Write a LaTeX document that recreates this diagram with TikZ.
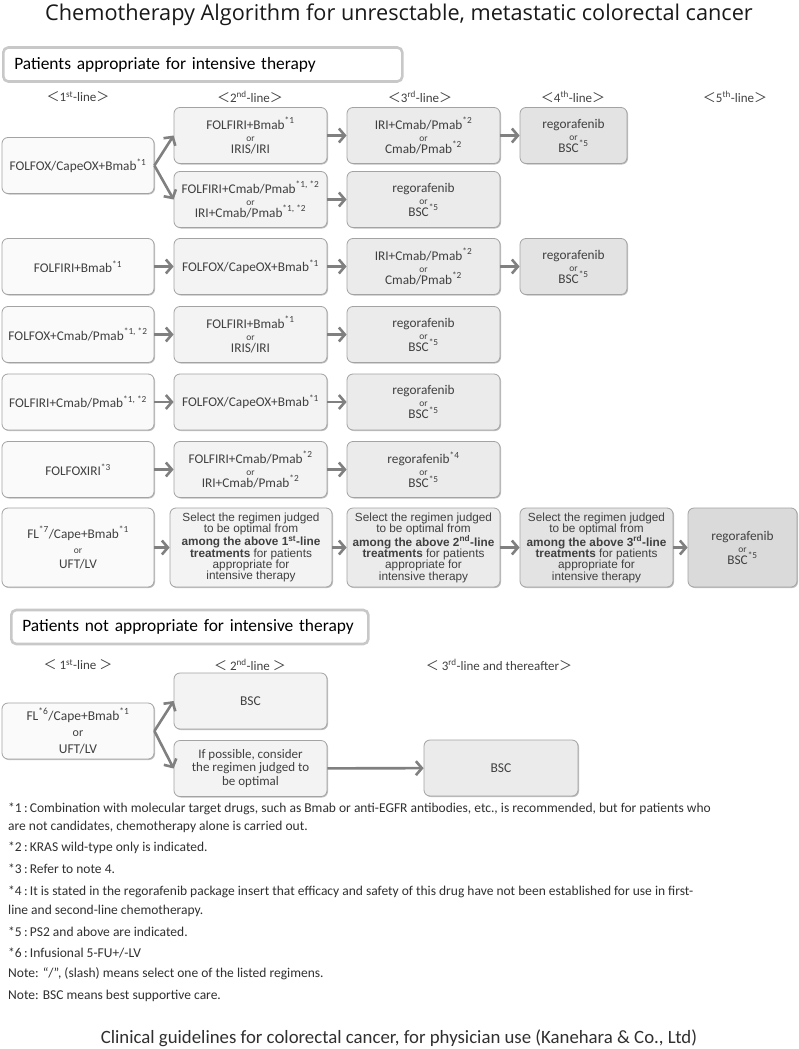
\documentclass[tikz,border=0pt]{standalone}
\usepackage{fontspec}
\setmainfont{Carlito}
\newfontfamily\arialf{Liberation Sans}
\newfontfamily\titlef{Open Sans}
\newfontfamily\cjkf{Noto Sans CJK JP}
\usetikzlibrary{arrows.meta,shadows}
\definecolor{txt}{HTML}{404040}
\definecolor{bord}{HTML}{A3A3A3}
\definecolor{arrc}{HTML}{808080}
\definecolor{fa}{HTML}{FAFAFA}
\definecolor{fb}{HTML}{F3F3F3}
\definecolor{fc}{HTML}{EBEBEB}
\definecolor{fd}{HTML}{E3E3E3}
\definecolor{fe}{HTML}{DADADA}
\definecolor{secb}{HTML}{C8C8C8}
\definecolor{fnt}{HTML}{303030}
\newcommand{\sps}[1]{\textsuperscript{*#1}}
\newcommand{\orw}{{\fontsize{9.5}{9.5}\selectfont or}}
\newcommand{\ltb}{{\cjkf ＜}}
\newcommand{\gtb}{{\cjkf ＞}}
\begin{document}
\begin{tikzpicture}[x=1pt,y=-1pt,
  box/.style={rounded corners=6pt, draw=bord, line width=0.8pt, align=center, text=txt,
    inner sep=1pt, font=\fontsize{13.3}{12}\selectfont, minimum height=56pt,
    drop shadow={shadow xshift=1pt, shadow yshift=-1pt, fill=black!55, opacity=0.45}},
  ca/.style={box, fill=fa, minimum width=152pt},
  cb/.style={box, fill=fb, minimum width=153pt},
  cc/.style={box, fill=fc, minimum width=153pt},
  cd/.style={box, fill=fd, minimum width=107pt},
  tall/.style={minimum height=79pt},
  sel/.style={font=\arialf\fontsize{11.8}{11.3}\selectfont},
  secbox/.style={draw=secb, line width=2.6pt, rounded corners=5pt, fill=white, anchor=west,
    align=left, inner xsep=11pt, font=\fontsize{17.4}{17}\selectfont, text=black, minimum height=34pt},
  hdr/.style={font=\fontsize{13}{13}\selectfont, text=txt},
  arr/.style={draw=arrc, line width=2.6pt, -{Straight Barb[length=6pt,width=14pt]}},
  fn/.style={anchor=base west, font=\fontsize{13.5}{13.5}\selectfont, text=fnt, inner sep=0pt}
]
\useasboundingbox (0,0) rectangle (798,1049);
\fill[white] (0,0) rectangle (798,1049);

\node[font=\titlef\fontsize{21.7}{21.7}\selectfont, text=black!90] (title) at (399,15)
  {Chemotherapy Algorithm for unresctable, metastatic colorectal cancer};

\node[secbox, text width=377pt] (sec1) at (2,64.5) {Patients appropriate for intensive therapy};

\node[hdr] (h1) at (78,97) {\ltb1\textsuperscript{st}-line\gtb};
\node[hdr] (h2) at (250,97) {\ltb2\textsuperscript{nd}-line\gtb};
\node[hdr] (h3) at (420,97) {\ltb3\textsuperscript{rd}-line\gtb};
\node[hdr] (h4) at (573,97) {\ltb4\textsuperscript{th}-line\gtb};
\node[hdr] (h5) at (735,97) {\ltb5\textsuperscript{th}-line\gtb};

% row 1
\node[ca] (a1) at (78,165.5) {FOLFOX/CapeOX+Bmab\sps{1}};
\node[cb] (a2u) at (250.5,135.5) {FOLFIRI+Bmab\sps{1}\\\orw\\IRIS/IRI};
\node[cb] (a2d) at (250.5,199.5) {FOLFIRI+Cmab/Pmab\sps{1, *2}\\\orw\\IRI+Cmab/Pmab\sps{1, *2}};
\node[cc] (a3u) at (423.5,135.5) {IRI+Cmab/Pmab\sps{2}\\\orw\\Cmab/Pmab\sps{2}};
\node[cc] (a3d) at (423.5,199.5) {regorafenib\\\orw\\BSC\sps{5}};
\node[cd] (a4u) at (573.5,135.5) {regorafenib\\\orw\\BSC\sps{5}};
\draw[arr] (a1.east) -- (a2u.west);
\draw[arr] (a1.east) -- (a2d.west);
\draw[arr] (a2u) -- (a3u);
\draw[arr] (a2d) -- (a3d);
\draw[arr] (a3u) -- (a4u);

% row 2
\node[ca] (b1) at (78,266.5) {FOLFIRI+Bmab\sps{1}};
\node[cb] (b2) at (250.5,266.5) {FOLFOX/CapeOX+Bmab\sps{1}};
\node[cc] (b3) at (423.5,266.5) {IRI+Cmab/Pmab\sps{2}\\\orw\\Cmab/Pmab\sps{2}};
\node[cd] (b4) at (573.5,266.5) {regorafenib\\\orw\\BSC\sps{5}};
\draw[arr] (b1) -- (b2);
\draw[arr] (b2) -- (b3);
\draw[arr] (b3) -- (b4);

% row 3
\node[ca] (c1) at (78,334.5) {FOLFOX+Cmab/Pmab\sps{1, *2}};
\node[cb] (c2) at (250.5,334.5) {FOLFIRI+Bmab\sps{1}\\\orw\\IRIS/IRI};
\node[cc] (c3) at (423.5,334.5) {regorafenib\\\orw\\BSC\sps{5}};
\draw[arr] (c1) -- (c2);
\draw[arr] (c2) -- (c3);

% row 4
\node[ca] (d1) at (78,402) {FOLFIRI+Cmab/Pmab\sps{1, *2}};
\node[cb] (d2) at (250.5,402) {FOLFOX/CapeOX+Bmab\sps{1}};
\node[cc] (d3) at (423.5,402) {regorafenib\\\orw\\BSC\sps{5}};
\draw[arr] (d1) -- (d2);
\draw[arr] (d2) -- (d3);

% row 5
\node[ca] (e1) at (78,469.5) {FOLFOXIRI\sps{3}};
\node[cb] (e2) at (250.5,469.5) {FOLFIRI+Cmab/Pmab\sps{2}\\\orw\\IRI+Cmab/Pmab\sps{2}};
\node[cc] (e3) at (423.5,469.5) {regorafenib\sps{4}\\\orw\\BSC\sps{5}};
\draw[arr] (e1) -- (e2);
\draw[arr] (e2) -- (e3);

% row 6
\node[ca, tall, font=\fontsize{13.3}{15}\selectfont] (f1) at (78,547.5) {FL\sps{7}/Cape+Bmab\sps{1}\\\orw\\UFT/LV};
\node[cb, tall, sel, minimum width=162pt] (f2) at (251,547.5) {Select the regimen judged\\to be optimal from\\\textbf{among the above 1\textsuperscript{st}-line}\\\textbf{treatments} for patients\\appropriate for\\intensive therapy};
\node[cc, tall, sel] (f3) at (423.5,547.5) {Select the regimen judged\\to be optimal from\\\textbf{among the above 2\textsuperscript{nd}-line}\\\textbf{treatments} for patients\\appropriate for\\intensive therapy};
\node[cd, tall, sel, minimum width=153pt] (f4) at (596.5,547.5) {Select the regimen judged\\to be optimal from\\\textbf{among the above 3\textsuperscript{rd}-line}\\\textbf{treatments} for patients\\appropriate for\\intensive therapy};
\node[box, tall, fill=fe, minimum width=109pt] (f5) at (742.5,547.5) {regorafenib\\\orw\\BSC\sps{5}};
\draw[arr] (f1) -- (f2);
\draw[arr] (f2) -- (f3);
\draw[arr] (f3) -- (f4);
\draw[arr] (f4) -- (f5);

% section 2
\node[secbox, text width=335pt] (sec2) at (10,627) {Patients not appropriate for intensive therapy};
\node[hdr] (g1) at (78,665) {\ltb\ 1\textsuperscript{st}-line \gtb};
\node[hdr] (g2) at (250,665) {\ltb\ 2\textsuperscript{nd}-line \gtb};
\node[hdr] (g3) at (499,665) {\ltb\ 3\textsuperscript{rd}-line and thereafter\gtb};

\node[ca, font=\fontsize{13.5}{16.5}\selectfont] (p1) at (78,731) {FL\sps{6}/Cape+Bmab\sps{1}\\{\fontsize{12}{12}\selectfont or}\\UFT/LV};
\node[cb, font=\fontsize{13.5}{13.5}\selectfont] (p2u) at (250.5,701) {BSC};
\node[cb, font=\fontsize{13}{13.5}\selectfont] (p2d) at (250.5,768.5) {If possible, consider\\the regimen judged to\\be optimal};
\node[cc, font=\fontsize{13.5}{13.5}\selectfont, minimum width=154pt] (p3) at (501,768) {BSC};
\draw[arr] (p1.east) -- (p2u.west);
\draw[arr] (p1.east) -- (p2d.west);
\draw[arr] (p2d) -- (p3);

% footnotes
\node[fn] (n1a) at (8,812.5) {*1\,:\,Combination with molecular target drugs, such as Bmab or anti-EGFR antibodies, etc., is recommended, but for patients who};
\node[fn] (n1b) at (8,830.5) {are not candidates, chemotherapy alone is carried out.};
\node[fn] (n2) at (8,851.5) {*2\,:\,KRAS wild-type only is indicated.};
\node[fn] (n3) at (8,873.5) {*3\,:\,Refer to note 4.};
\node[fn] (n4a) at (8,895.5) {*4\,:\,It is stated in the regorafenib package insert that efficacy and safety of this drug have not been established for use in first-};
\node[fn] (n4b) at (8,914.5) {line and second-line chemotherapy.};
\node[fn] (n5) at (8,936.5) {*5\,:\,PS2 and above are indicated.};
\node[fn] (n6) at (8,957.5) {*6\,:\,Infusional 5-FU+/-LV};
\node[fn] (n7) at (8,977.5) {Note: “/”, (slash) means select one of the listed regimens.};
\node[fn] (n8) at (8,999.5) {Note: BSC means best supportive care.};

\node[font=\fontsize{18.8}{18.8}\selectfont, text=fnt] (cite) at (399,1038) {Clinical guidelines for colorectal cancer, for physician use (Kanehara \& Co., Ltd)};
\end{tikzpicture}
\end{document}
